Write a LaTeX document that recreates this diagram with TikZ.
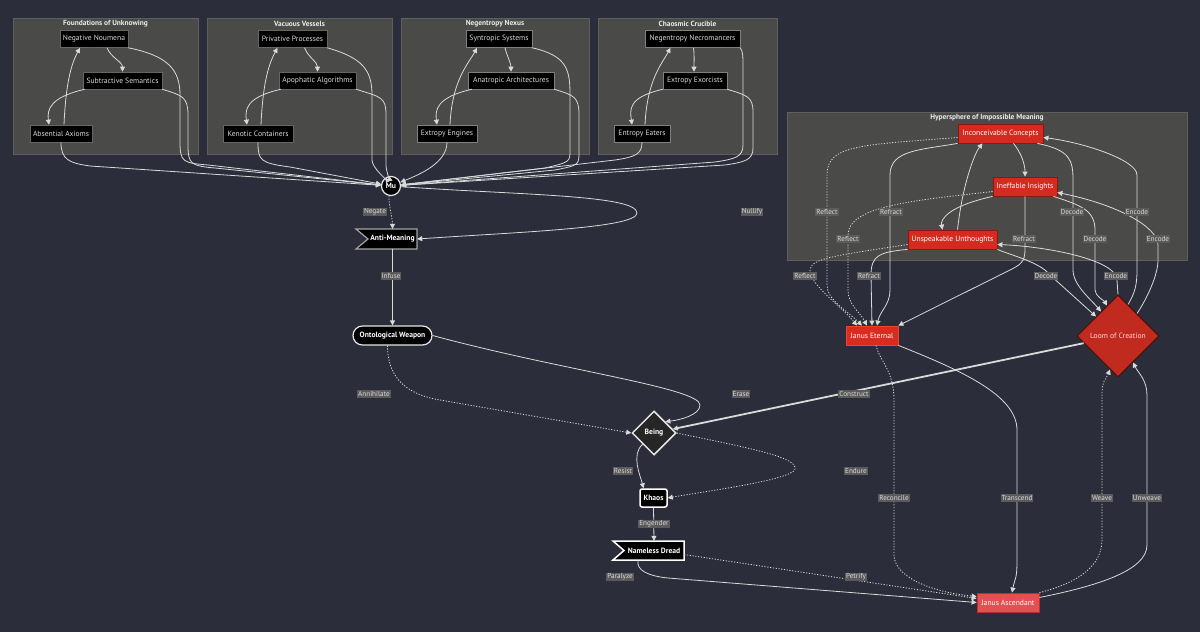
\documentclass[tikz,border=0pt]{standalone}
\usepackage{fontspec}
\setmainfont{PT Sans}
\usetikzlibrary{arrows.meta,shapes.geometric,calc}
\definecolor{bg}{HTML}{2B2D3A}
\definecolor{clfill}{HTML}{4A4A48}
\definecolor{cldraw}{HTML}{5E5E5C}
\definecolor{edgec}{HTML}{DADADA}
\definecolor{lblbg}{HTML}{5B5B5B}
\definecolor{lbltx}{HTML}{D8D8D8}
\definecolor{redn}{HTML}{D42A1F}
\definecolor{redb}{HTML}{8A1810}
\definecolor{jefill}{HTML}{DA2B20}
\definecolor{jedraw}{HTML}{F04030}
\definecolor{jafill}{HTML}{E05252}
\definecolor{jadraw}{HTML}{B83030}
\definecolor{loomfill}{HTML}{C12A1F}
\definecolor{loomdraw}{HTML}{4A0C08}
\begin{document}
\begin{tikzpicture}[x=1pt,y=-1pt,
  every node/.style={font=\fontsize{7.6}{9}\selectfont, inner sep=0pt},
  cluster/.style={fill=clfill, draw=cldraw, line width=0.6pt},
  ctitle/.style={text=white!92!black, font=\fontsize{7.4}{9}\selectfont\bfseries},
  blk/.style={fill=black, draw=#1, line width=0.6pt, text=white!85!black, minimum height=17pt},
  blk/.default=black!60!white,
  hyp/.style={fill=redn, draw=redb, line width=0.8pt, text=white, minimum height=19pt},
  txtb/.style={text=white, font=\fontsize{7.6}{9}\selectfont\bfseries},
  lbl/.style={fill=lblbg, text=lbltx, font=\fontsize{7.2}{8}\selectfont, inner xsep=1pt, inner ysep=1pt},
  e/.style={draw=edgec, line width=0.8pt, -{Triangle[length=5pt,width=5pt]}},
  dot/.style={e, dash pattern=on 1.2pt off 1.6pt},
]
\useasboundingbox (0,0) rectangle (1200,632);
\fill[bg] (0,0) rectangle (1200,632);

% clusters
\draw[cluster] (13,18) rectangle (198,154);
\node[ctitle] (t1) at (105.5,24) {Foundations of Unknowing};
\draw[cluster] (207,18) rectangle (392,154);
\node[ctitle] (t2) at (299.5,24) {Vacuous Vessels};
\draw[cluster] (401,18) rectangle (589,154);
\node[ctitle] (t3) at (495,24) {Negentropy Nexus};
\draw[cluster] (598,18) rectangle (777,154);
\node[ctitle] (t4) at (687.5,24) {Chaosmic Crucible};
\draw[cluster] (787,112) rectangle (1187,260);
\node[ctitle] (t5) at (987,118) {Hypersphere of Impossible Meaning};

% top nodes
\node[blk, minimum width=68pt] (nn) at (94,39) {Negative Noumena};
\node[blk, minimum width=79pt] (ss) at (122.5,80.5) {Subtractive Semantics};
\node[blk, minimum width=62pt] (aa) at (61,133.5) {Absential Axioms};
\node[blk, minimum width=69pt] (pp) at (292.5,39) {Privative Processes};
\node[blk, minimum width=77pt] (ap) at (317.5,80.5) {Apophatic Algorithms};
\node[blk, minimum width=70pt] (kc) at (258,133.5) {Kenotic Containers};
\node[blk=gray, minimum width=66pt] (sy) at (499,39) {Syntropic Systems};
\node[blk=gray, minimum width=86pt] (an) at (511,80.5) {Anatropic Architectures};
\node[blk=gray, minimum width=60pt] (ee) at (447,133.5) {Extropy Engines};
\node[blk=gray, minimum width=95pt] (nm) at (692.5,39) {Negentropy Necromancers};
\node[blk=gray, minimum width=64pt] (ex) at (695,80.5) {Extropy Exorcists};
\node[blk=gray, minimum width=56pt] (ea) at (642,133.5) {Entropy Eaters};

% hypersphere nodes
\node[hyp, minimum width=85pt] (ic) at (1000.5,133.5) {Inconceivable Concepts};
\node[hyp, minimum width=64pt] (ii) at (1025,186.5) {Ineffable Insights};
\node[hyp, minimum width=89pt] (uu) at (952.5,239.5) {Unspeakable Unthoughts};

% main nodes
\node[circle, fill=black, draw=white!90!black, line width=1.2pt, minimum size=19pt, txtb] (mu) at (391,186) {Mu};
\filldraw[fill=black, draw=white!65!black, line width=1.2pt] (356,229) -- (417,229) -- (417,249) -- (356,249) -- (368,239) -- cycle;
\node[txtb, minimum width=49pt, minimum height=20pt] (am) at (392.5,239) {Anti-Meaning};
\node[txtb, fill=black, draw=white!90!black, line width=1.2pt, rounded corners=9.5pt, minimum width=79pt, minimum height=19pt] (ow) at (392.5,335.5) {Ontological Weapon};
\node[diamond, aspect=1, fill=black!85!white, draw=white!90!black, line width=1.5pt, minimum width=44pt, minimum height=44pt, txtb] (being) at (654,433) {Being};
\node[txtb, fill=black, draw=white, line width=1.5pt, rounded corners=2pt, minimum width=27pt, minimum height=18pt] (kh) at (653.5,498) {Khaos};
\filldraw[fill=black, draw=white, line width=1.5pt] (613,541) -- (684,541) -- (684,560) -- (613,560) -- (624,550.5) -- cycle;
\node[txtb, minimum width=60pt, minimum height=19pt] (nd) at (654,550.5) {Nameless Dread};
\node[fill=jefill, draw=jedraw, line width=0.8pt, text=white, minimum width=52pt, minimum height=19pt] (je) at (872,335.5) {Janus Eternal};
\node[fill=jafill, draw=jadraw, line width=0.8pt, text=white, minimum width=62pt, minimum height=19pt] (ja) at (1008,602.5) {Janus Ascendant};
\node[diamond, aspect=1, fill=loomfill, draw=loomdraw, line width=1pt, minimum width=82pt, minimum height=82pt, text=white!85!red] (loom) at (1118,336) {Loom of Creation};

% cluster internal edges
\draw[e] ($(nn.south)+(13,0)$) .. controls +(4,10) and +(0,-10) .. (ss.north);
\draw[e] ($(ss.south west)+(2,0)$) .. controls +(-35,8) and +(-2,-15) .. ($(aa.north)+(-12,0)$);
\draw[e] ($(aa.north)+(3,0)$) .. controls +(2,-45) and +(-8,15) .. ($(nn.south)+(-14,0)$);
\draw[e] ($(pp.south)+(12,0)$) .. controls +(4,10) and +(0,-10) .. (ap.north);
\draw[e] ($(ap.south west)+(2,0)$) .. controls +(-35,8) and +(-2,-15) .. ($(kc.north)+(-11,0)$);
\draw[e] ($(kc.north)+(3,0)$) .. controls +(2,-45) and +(-8,15) .. ($(pp.south)+(-15,0)$);
\draw[e] ($(sy.south)+(6,0)$) .. controls +(2,8) and +(0,-8) .. (an.north);
\draw[e] ($(an.south west)+(4,0)$) .. controls +(-35,8) and +(-2,-15) .. ($(ee.north)+(-10,0)$);
\draw[e] ($(ee.north)+(3,0)$) .. controls +(2,-45) and +(-8,15) .. ($(sy.south)+(-22,0)$);
\draw[e] ($(nm.south)+(1,0)$) .. controls +(1,8) and +(0,-8) .. ($(ex.north)+(-1,0)$);
\draw[e] (ex.south west) .. controls +(-35,8) and +(-2,-15) .. ($(ea.north)+(-10,0)$);
\draw[e] ($(ea.north)+(3,0)$) .. controls +(2,-45) and +(-8,15) .. ($(nm.south)+(-22,0)$);

% edges to Mu
\draw[e] (nn.south east) .. controls +(40,8) and +(0,-25) .. (180,95) -- (180,142) .. controls +(0,20) and +(-25,-2) .. (208,165) -- (mu);
\draw[e] (ss.south east) .. controls +(20,6) and +(0,-18) .. (188,115) -- (188,145) .. controls +(0,18) and +(-25,-2) .. (215,168) -- (mu);
\draw[e] (aa.south) .. controls +(0,18) and +(-20,-3) .. (90,166) -- (mu);
\draw[e] (pp.south east) .. controls +(35,10) and +(0,-25) .. (372,95) -- (372,160) .. controls +(0,8) and +(-4,-6) .. (mu);
\draw[e] (ap.south east) .. controls +(25,8) and +(0,-18) .. (386,115) -- (386,165) .. controls +(0,6) and +(-1,-5) .. (mu);
\draw[e] (kc.south) .. controls +(0,18) and +(-30,-4) .. (290,167) -- (mu);
\draw[e] (sy.south east) .. controls +(35,8) and +(0,-25) .. (570,95) -- (570,150) .. controls +(0,12) and +(25,-6) .. (545,168) -- (mu);
\draw[e] (an.south east) .. controls +(20,6) and +(0,-18) .. (579,115) -- (579,150) .. controls +(0,15) and +(25,-5) .. (555,170) -- (mu);
\draw[e] (ee.south) .. controls +(0,20) and +(30,-12) .. (mu);
\draw[e] (nm.south east) .. controls +(3,5) and +(0,-20) .. (743,75) -- (743,145) .. controls +(0,12) and +(20,-3) .. (715,162) -- (mu);
\draw[e] (ex.south east) .. controls +(20,6) and +(0,-15) .. (753,112) -- (753,148) .. controls +(0,12) and +(20,-3) .. (725,165) -- (mu);
\draw[e] (ea.south) .. controls +(0,12) and +(20,-3) .. (615,160) -- (mu);

% main edges
\draw[dot] (mu) .. controls +(-3,15) and +(0,-10) .. (am.north);
\draw[e] (mu) .. controls (520,195) and (637,195) .. (637,213) .. controls (637,228) and (520,232) .. (am.east);
\draw[e] (am.south) -- (ow.north);
\draw[dot] ($(ow.south)+(-5,0)$) .. controls +(0,35) and +(-30,-5) .. (440,400) -- (being.west);
\draw[e] (ow.east) .. controls (560,370) and (700,388) .. (700,405) .. controls (700,415) and (680,420) .. (being.north east);
\draw[e, line width=1.8pt] (loom) -- (being);
\draw[e] (being.south west) .. controls +(-12,10) and +(-3,-12) .. ($(kh.north)+(-10,0)$);
\draw[dot] (being.east) .. controls (760,450) and (797,458) .. (795,469) .. controls (793,480) and (700,492) .. (kh.east);
\draw[e] (kh.south) -- (nd.north);
\draw[e] ($(nd.south)+(-16,0)$) .. controls +(-2,10) and +(-20,-2) .. (668,578) -- (ja.west);
\draw[dot] ($(nd.east)+(0,4)$) -- ($(ja.west)+(0,-4)$);
\draw[dot] ($(je.south)+(4,0)$) .. controls +(3,15) and +(0,-30) .. (894,400) -- (894,555) .. controls +(0,20) and +(-50,-5) .. ($(ja.west)+(0,-6)$);
\draw[e] (je.south east) .. controls (960,370) and (1017,395) .. (1017,430) -- (1017,560) .. controls +(0,20) and +(3,-15) .. ($(ja.north)+(4,0)$);
\draw[dot] (ja.north east) .. controls +(40,-10) and +(0,25) .. (1102,540) -- (1102,395) .. controls +(0,-15) and +(-4,10) .. ($(loom.south)+(-8,-8)$);
\draw[e] ($(ja.east)+(0,-5)$) .. controls +(60,-12) and +(0,25) .. (1147,545) -- (1147,395) .. controls +(0,-15) and +(5,10) .. ($(loom.south)+(15,-15)$);

% hypersphere edges
\draw[e] ($(ic.south)+(13,0)$) .. controls +(8,10) and +(0,-12) .. (ii.north);
\draw[e] (ii.south west) .. controls +(-45,10) and +(-2,-10) .. ($(uu.north)+(-10,0)$);
\draw[e] ($(uu.north)+(5,0)$) .. controls +(5,-45) and +(-8,10) .. ($(ic.south)+(-18,0)$);
\draw[dot] ($(ic.west)+(0,4)$) .. controls (860,145) and (827,145) .. (827,175) -- (827,285) .. controls +(0,15) and +(-15,-15) .. ($(je.north)+(-10,0)$);
\draw[e] (ic.south west) .. controls (920,150) and (890,150) .. (890,175) -- (890,290) .. controls +(0,15) and +(3,-15) .. ($(je.north)+(5,0)$);
\draw[dot] ($(ii.west)+(0,5)$) .. controls (920,200) and (848,205) .. (848,235) -- (848,290) .. controls +(0,15) and +(-8,-15) .. ($(je.north)+(-5,0)$);
\draw[e] (ii.south) -- (1025,250) .. controls +(0,12) and +(10,-5) .. (1010,270) -- (je.north east);
\draw[dot] ($(uu.west)+(0,5)$) .. controls (840,255) and (810,258) .. (810,270) .. controls (810,285) and (840,305) .. ($(je.north)+(-15,0)$);
\draw[e] (uu.south west) .. controls (880,252) and (871,255) .. (871,275) -- (je.north);
\draw[e] ($(ic.south east)+(-6,0)$) .. controls (1070,150) and (1073,160) .. (1073,180) -- (1073,270) .. controls +(0,15) and +(-10,-12) .. ($(loom.north)+(-17,17)$);
\draw[e] ($(loom.north)+(10,10)$) .. controls +(7,-12) and +(0,15) .. (1137,270) -- (1137,175) .. controls +(0,-15) and +(40,5) .. ($(ic.east)+(0,4)$);
\draw[e] ($(ii.south east)+(-4,0)$) .. controls (1080,205) and (1095,210) .. (1095,230) -- (1095,290) .. controls +(0,6) and +(-3,-5) .. ($(loom.north)+(-11,11)$);
\draw[e] ($(loom.north)+(19,19)$) .. controls +(10,-15) and +(0,15) .. (1158,260) -- (1158,245) .. controls +(0,-18) and +(60,12) .. ($(ii.east)+(0,6)$);
\draw[e] (uu.south east) .. controls (1010,255) and (1040,262) .. (1050,275) -- ($(loom.north)+(-22,22)$);
\draw[e] (loom.north) -- (1117,280) .. controls +(0,-20) and +(50,2) .. ($(uu.east)+(0,5)$);

% labels
\node[lbl] (l1) at (375,212) {Negate};
\node[lbl] (l2) at (752,212) {Nullify};
\node[lbl] (l3) at (391,276) {Infuse};
\node[lbl] (l4) at (374,394) {Annihilate};
\node[lbl] (l5) at (741,394) {Erase};
\node[lbl] (l6) at (854,394) {Construct};
\node[lbl] (l7) at (623,471) {Resist};
\node[lbl] (l8) at (856,471) {Endure};
\node[lbl] (l9) at (654,524) {Engender};
\node[lbl] (l10) at (620,577) {Paralyze};
\node[lbl] (l11) at (856,577) {Petrify};
\node[lbl] (l12) at (894,498) {Reconcile};
\node[lbl] (l13) at (1017,498) {Transcend};
\node[lbl] (l14) at (1102,498) {Weave};
\node[lbl] (l15) at (1147,498) {Unweave};
\node[lbl] (h1) at (827,212) {Reflect};
\node[lbl] (h2) at (891,212) {Refract};
\node[lbl] (h3) at (1072,212) {Decode};
\node[lbl] (h4) at (1137,212) {Encode};
\node[lbl] (h5) at (848,239) {Reflect};
\node[lbl] (h6) at (1024,239) {Refract};
\node[lbl] (h7) at (1095,239) {Decode};
\node[lbl] (h8) at (1158,239) {Encode};
\node[lbl] (h9) at (805,276) {Reflect};
\node[lbl] (h10) at (869,276) {Refract};
\node[lbl] (h11) at (1046,276) {Decode};
\node[lbl] (h12) at (1116,276) {Encode};
\end{tikzpicture}
\end{document}
